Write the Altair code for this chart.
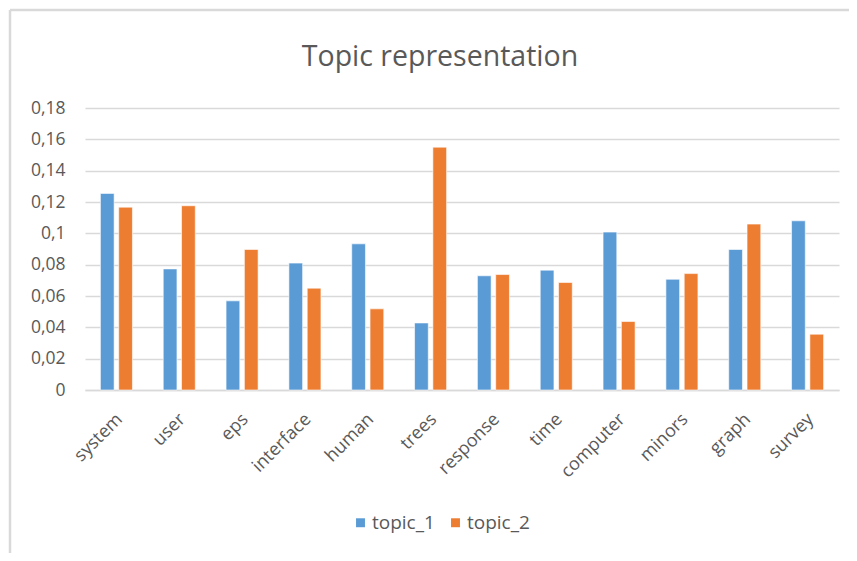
import altair as alt
import pandas as pd

chart_title = "Topic representation"
words = ["system", "user", "eps", "interface", "human", "trees",
         "response", "time", "computer", "minors", "graph", "survey"]
topic_1 = [0.1255, 0.0773, 0.0569, 0.0810, 0.0933, 0.0428,
           0.0729, 0.0765, 0.1008, 0.0707, 0.0897, 0.1080]
topic_2 = [0.1167, 0.1176, 0.0897, 0.0650, 0.0518, 0.1550,
           0.0737, 0.0686, 0.0437, 0.0743, 0.1059, 0.0356]
series = ["topic_1", "topic_2"]
colors = ["#5B9BD5", "#ED7D31"]
y_ticks = [0, 0.02, 0.04, 0.06, 0.08, 0.1, 0.12, 0.14, 0.16, 0.18]

rows = []
for i, w in enumerate(words):
    rows.append({"word": w, "topic": series[0], "value": topic_1[i]})
    rows.append({"word": w, "topic": series[1], "value": topic_2[i]})
df = pd.DataFrame(rows)

FONT = "Open Sans"
GRAY = "#595959"
GRID = "#d9d9d9"

bars = alt.Chart(df).mark_bar(stroke="white", strokeWidth=0.6).encode(
    x=alt.X("word:N", sort=words, title=None,
            scale=alt.Scale(paddingInner=0.49, paddingOuter=0.245),
            axis=alt.Axis(labelAngle=-45, labelFontSize=18, labelColor=GRAY,
                          labelFont=FONT, ticks=False, domainColor=GRID,
                          domainWidth=1.5, labelPadding=20, labelOffset=-3,
                          grid=False)),
    xOffset=alt.XOffset("topic:N", scale=alt.Scale(paddingInner=0.25, paddingOuter=0)),
    y=alt.Y("value:Q", title=None,
            scale=alt.Scale(domain=[0, 0.18], nice=False),
            axis=alt.Axis(values=y_ticks, labelFontSize=17.5, labelColor=GRAY,
                          labelFont=FONT, ticks=False, domain=False,
                          gridColor=GRID, gridWidth=1.5, labelPadding=20,
                          labelExpr="replace(format(datum.value, '~g'), '.', ',')")),
    color=alt.Color("topic:N", scale=alt.Scale(domain=series, range=colors),
                    legend=alt.Legend(title=None, orient="none", direction="horizontal",
                                      legendX=266, legendY=405, symbolType="square",
                                      symbolSize=80, symbolStrokeWidth=0,
                                      labelFontSize=19, labelColor=GRAY, labelFont=FONT,
                                      columnPadding=11, labelOffset=2)),
)

title_mark = alt.Chart(alt.Data(values=[{"t": chart_title}])).mark_text(
    font=FONT, fontSize=28.5, color=GRAY, align="center", baseline="alphabetic"
).encode(text="t:N", x=alt.value(355), y=alt.value(-42))

frame_data = alt.Data(values=[{}])
top_line = alt.Chart(frame_data).mark_rule(color=GRID, strokeWidth=2.5, clip=False).encode(
    x=alt.value(-75), x2=alt.value(772), y=alt.value(-98))
left_line = alt.Chart(frame_data).mark_rule(color=GRID, strokeWidth=2.5, clip=False).encode(
    x=alt.value(-75), y=alt.value(-98), y2=alt.value(460))

chart = alt.layer(bars, title_mark, top_line, left_line).properties(
    width=754, height=282,
    autosize=alt.AutoSizeParams(type="none"),
    padding={"left": 77, "top": 100, "right": 10, "bottom": 163},
).configure_view(stroke=None)

chart.save("out.html", embed_options={"renderer": "svg", "actions": False})
